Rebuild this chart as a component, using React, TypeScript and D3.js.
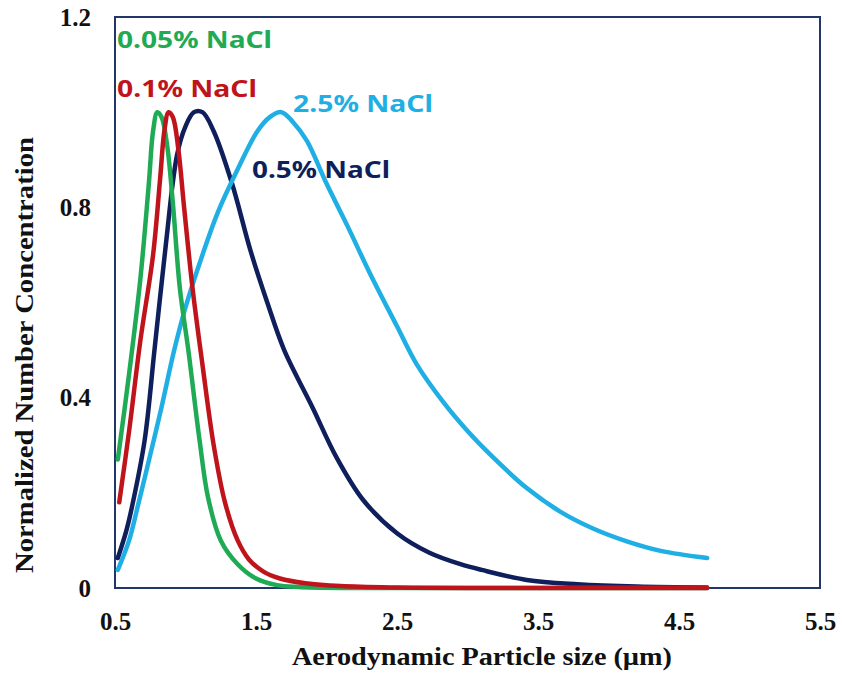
import { useRef, useEffect } from 'react';
import * as d3 from 'd3';

// particle size (µm) and normalized concentration
const green005 = [
  [0.52, 0.27], [0.6, 0.45], [0.68, 0.65], [0.74, 0.85], [0.77, 0.96], [0.8, 1.0],
  [0.83, 0.99], [0.87, 0.93], [0.91, 0.81], [0.96, 0.63], [1.02, 0.5], [1.1, 0.31],
  [1.16, 0.19], [1.25, 0.1], [1.37, 0.05], [1.5, 0.02], [1.65, 0.006], [1.8, 0.002],
  [2.2, 0], [3.0, 0], [4.7, 0],
];
const red01 = [
  [0.53, 0.18], [0.6, 0.33], [0.68, 0.52], [0.77, 0.7], [0.82, 0.86], [0.85, 0.96],
  [0.88, 1.0], [0.91, 0.99], [0.95, 0.92], [0.99, 0.8], [1.05, 0.63], [1.12, 0.47],
  [1.2, 0.3], [1.28, 0.18], [1.37, 0.1], [1.45, 0.06], [1.55, 0.035], [1.67, 0.02],
  [1.85, 0.01], [2.1, 0.004], [2.5, 0.001], [3.0, 0], [4.7, 0],
];
const navy05 = [
  [0.52, 0.063], [0.58, 0.12], [0.62, 0.17], [0.71, 0.31], [0.78, 0.5], [0.86, 0.72],
  [0.94, 0.91], [1.0, 0.97], [1.06, 1.0], [1.12, 1.0], [1.2, 0.96], [1.33, 0.85],
  [1.46, 0.71], [1.58, 0.6], [1.7, 0.5], [1.9, 0.38], [2.07, 0.275], [2.26, 0.185],
  [2.5, 0.115], [2.73, 0.074], [2.95, 0.05], [3.1, 0.038], [3.42, 0.017], [3.78, 0.008],
  [4.2, 0.003], [4.7, 0.001],
];
const blue25 = [
  [0.52, 0.038], [0.6, 0.1], [0.66, 0.17], [0.75, 0.28], [0.83, 0.38], [0.92, 0.5],
  [1.0, 0.59], [1.12, 0.7], [1.23, 0.79], [1.37, 0.88], [1.51, 0.96], [1.6, 0.99],
  [1.68, 1.0], [1.76, 0.98], [1.86, 0.94], [2.0, 0.85], [2.15, 0.76], [2.31, 0.66],
  [2.5, 0.55], [2.64, 0.47], [2.83, 0.39], [3.0, 0.33], [3.18, 0.275], [3.42, 0.21],
  [3.66, 0.16], [3.89, 0.125], [4.13, 0.098], [4.37, 0.078], [4.7, 0.063],
];

const xTicks = [0.5, 1.5, 2.5, 3.5, 4.5, 5.5];
const yTicks = [0, 0.4, 0.8, 1.2];

const series = [
  { name: '0.5% NaCl', data: navy05, color: '#0f1f5c', lx: 252, ly: 178, len: 138 },
  { name: '2.5% NaCl', data: blue25, color: '#1fafe4', lx: 293, ly: 112, len: 140 },
  { name: '0.05% NaCl', data: green005, color: '#1faa55', lx: 117, ly: 48, len: 155 },
  { name: '0.1% NaCl', data: red01, color: '#c0141c', lx: 117, ly: 97, len: 140 },
];

const W = 842;
const H = 678;
const m = { left: 115, top: 17, right: 820, bottom: 588 };
const serif = '"Liberation Serif", "Times New Roman", serif';

const App = () => {
  const svgRef = useRef<SVGSVGElement>(null);

  useEffect(() => {
    const svg = d3.select(svgRef.current);
    const x = d3.scaleLinear().domain([0.5, 5.5]).range([m.left, m.right]);
    const y = d3.scaleLinear().domain([0, 1.2]).range([m.bottom, m.top]);

    svg
      .select<SVGGElement>('.x-axis')
      .attr('transform', `translate(0,${m.bottom})`)
      .call(d3.axisBottom(x).tickValues(xTicks).tickFormat(d3.format('.1f')).tickSize(0).tickPadding(24))
      .call((g) => g.select('.domain').remove())
      .selectAll('text')
      .attr('font-size', 25)
      .attr('font-weight', 'bold')
      .attr('font-family', serif)
      .attr('fill', '#111');

    svg
      .select<SVGGElement>('.y-axis')
      .attr('transform', `translate(${m.left},0)`)
      .call(
        d3
          .axisLeft(y)
          .tickValues(yTicks)
          .tickFormat((d) => (d === 0 ? '0' : d3.format('.1f')(d as number)))
          .tickSize(0)
          .tickPadding(24)
      )
      .call((g) => g.select('.domain').remove())
      .selectAll('text')
      .attr('font-size', 25)
      .attr('font-weight', 'bold')
      .attr('font-family', serif)
      .attr('fill', '#111');

    const myLine = d3
      .line<number[]>()
      .x((d) => x(d[0]))
      .y((d) => y(Math.max(0, d[1])))
      .curve(d3.curveCatmullRom.alpha(0.5));

    svg
      .select('.lines')
      .selectAll('.line')
      .data(series)
      .join('path')
      .attr('class', 'line')
      .attr('d', (s) => myLine(s.data))
      .attr('fill', 'none')
      .attr('stroke', (s) => s.color)
      .attr('stroke-width', 4.5)
      .attr('stroke-linecap', 'round')
      .attr('stroke-linejoin', 'round');

    svg
      .select('.labels')
      .selectAll('text')
      .data(series)
      .join('text')
      .attr('x', (s) => s.lx)
      .attr('y', (s) => s.ly)
      .attr('textLength', (s) => s.len)
      .attr('lengthAdjust', 'spacingAndGlyphs')
      .attr('font-size', 24)
      .attr('font-weight', 'bold')
      .attr('font-family', '"Noto Sans", "DejaVu Sans", sans-serif')
      .attr('fill', (s) => s.color)
      .text((s) => s.name);
  }, []);

  return (
    <svg
      ref={svgRef}
      width={W}
      height={H}
      style={{ position: 'absolute', left: 0, top: 0, display: 'block', background: '#fff' }}
    >
      <rect
        x={m.left}
        y={m.top}
        width={m.right - m.left}
        height={m.bottom - m.top}
        fill="none"
        stroke="#23366a"
        strokeWidth={2}
      />
      <g className="x-axis" />
      <g className="y-axis" />
      <g className="lines" />
      <g className="labels" />
      <text
        x={482}
        y={665}
        textAnchor="middle"
        fontSize={26}
        fontWeight="bold"
        fontFamily={serif}
        textLength={380}
        lengthAdjust="spacingAndGlyphs"
        fill="#111"
      >
        Aerodynamic Particle size (µm)
      </text>
      <text
        transform="translate(33,355) rotate(-90)"
        textAnchor="middle"
        fontSize={26}
        fontWeight="bold"
        fontFamily={serif}
        textLength={436}
        lengthAdjust="spacingAndGlyphs"
        fill="#111"
      >
        Normalized Number Concentration
      </text>
    </svg>
  );
};

export default App;
